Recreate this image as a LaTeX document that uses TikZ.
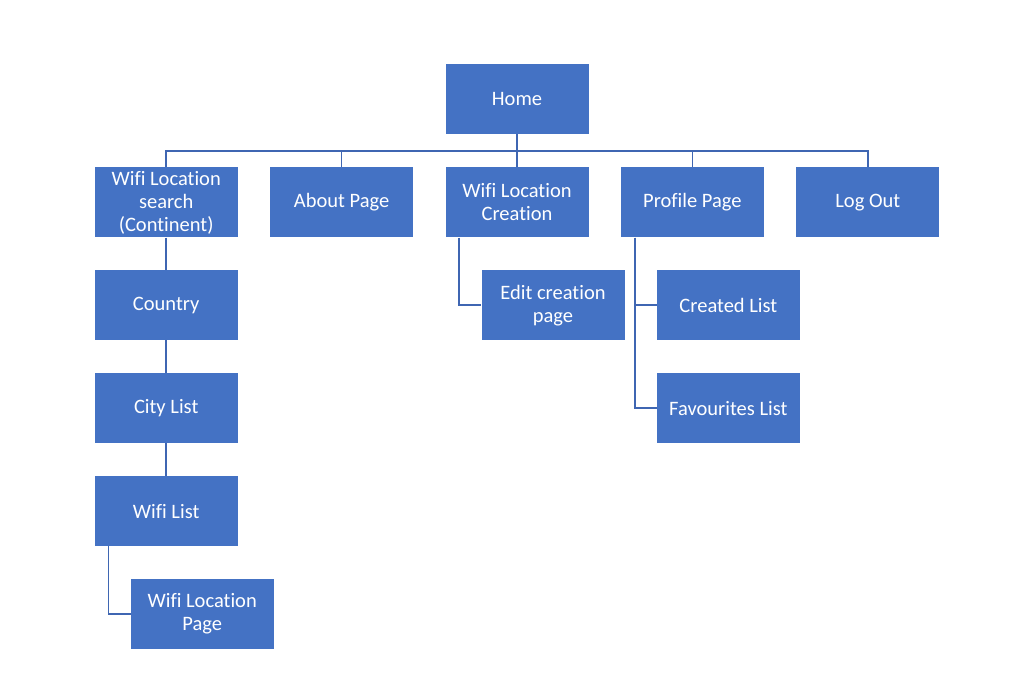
\documentclass[tikz,border=0pt]{standalone}
\usepackage{fontspec}
\setmainfont[Ligatures=NoCommon]{Carlito}
\usetikzlibrary{positioning}

\definecolor{boxblue}{HTML}{4472C4}
\definecolor{lineblue}{HTML}{3F66B2}

\begin{document}
\begin{tikzpicture}

\tikzstyle{page}=[fill=boxblue, text=white, align=center, minimum width=143pt, minimum height=70pt, inner sep=0pt, font=\fontsize{20.5pt}{23pt}\selectfont]
\tikzstyle{link}=[draw=lineblue, line width=1.7pt]

\useasboundingbox (0,0) rectangle (1014pt,682pt);

\node [page] (home) at (517pt,583pt) {Home};

% first level
\node [page, below=33pt of home] (creation) {Wifi Location\\Creation};
\node [page, left=32pt of creation] (about) {About Page};
\node [page, left=32pt of about] (search) {Wifi Location\\search\\(Continent)};
\node [page, right=32pt of creation] (profile) {Profile Page};
\node [page, right=32pt of profile] (logout) {Log Out};

% search chain
\node [page, below=32.5pt of search] (country) {Country};
\node [page, below=32.5pt of country] (city) {City List};
\node [page, below=32.5pt of city] (wifilist) {Wifi List};
\node [page, below=32.5pt of wifilist, xshift=36pt] (wlpage) {Wifi Location\\Page};

\node [page, below=32.5pt of creation, xshift=36pt] (edit) {Edit creation\\page};
\node [page, below=32.5pt of profile, xshift=36pt] (created) {Created List};
\node [page, below=32.5pt of created] (fav) {Favourites List};

\draw [link] (home.south) -- ++(0,-17pt) coordinate (bus);
\foreach \n in {search, about, creation, profile, logout}
  \draw [link] (bus) -| (\n.north);

\draw [link] (search) -- (country);
\draw [link] (country) -- (city);
\draw [link] (city) -- (wifilist);
\draw [link] ([xshift=14pt]wifilist.south west) |- (wlpage.west);
\draw [link] ([xshift=14pt]creation.south west) |- (edit.west);
\draw [link] ([xshift=14pt]profile.south west) |- (created.west);
\draw [link] ([xshift=14pt]profile.south west) |- (fav.west);

\end{tikzpicture}
\end{document}
